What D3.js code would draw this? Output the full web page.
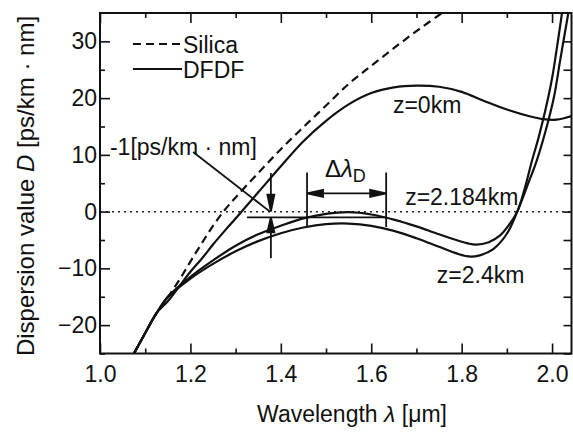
<!DOCTYPE html>
<html>
<head>
<meta charset="utf-8">
<script src="https://cdn.jsdelivr.net/npm/d3@7"></script>
<style>
  body { margin: 0; background: #ffffff; }
  text { font-family: "Liberation Sans", Arial, sans-serif; fill: #111; }
</style>
</head>
<body>
<div id="chart"></div>
<script>
// ----------------------------------------------------------------------------------------------------
// DATA - dispersion D [ps/km nm] against wavelength [um]
// ----------------------------------------------------------------------------------------------------

var silicaWl = [1.075, 1.10, 1.125, 1.15, 1.175, 1.20, 1.225, 1.25, 1.275, 1.30, 1.35, 1.40, 1.45, 1.50, 1.55, 1.60, 1.65, 1.70, 1.76, 1.80];
var silicaD  = [-25, -21.4, -17.9, -15.1, -12.1, -8.8, -5.6, -2.5, 0.2, 2.5, 6.8, 11.0, 14.9, 18.7, 22.5, 25.7, 28.8, 31.8, 35.2, 37.4];

var dfdf0Wl = [1.075, 1.10, 1.125, 1.15, 1.175, 1.20, 1.225, 1.25, 1.28, 1.30, 1.35, 1.40, 1.45, 1.50, 1.55, 1.60, 1.65, 1.70, 1.75, 1.80, 1.85, 1.90, 1.95, 1.98, 2.01, 2.045];
var dfdf0D  = [-25, -21.4, -17.9, -15.8, -13.2, -10.6, -8.3, -5.8, -3.0, -1.2, 3.4, 8.0, 12.4, 16.0, 18.9, 20.9, 21.9, 22.2, 22.0, 21.1, 19.5, 18.0, 16.8, 16.3, 16.2, 16.9];

var dfdf2184Wl = [1.075, 1.10, 1.125, 1.15, 1.20, 1.25, 1.30, 1.35, 1.40, 1.45, 1.50, 1.55, 1.60, 1.65, 1.70, 1.75, 1.80, 1.83, 1.86, 1.885, 1.905, 1.923, 1.94, 1.955, 1.97, 1.985, 2.00, 2.01, 2.022];
var dfdf2184D  = [-25, -21.4, -17.9, -15.0, -11.5, -8.6, -6.0, -4.0, -2.5, -1.2, -0.4, -0.1, -0.5, -1.4, -2.6, -4.0, -5.3, -5.8, -5.4, -4.2, -2.3, 0, 4.2, 8.8, 13.0, 17.8, 23.5, 28.5, 35];

var dfdf24Wl = [1.075, 1.10, 1.125, 1.15, 1.20, 1.25, 1.30, 1.35, 1.40, 1.45, 1.50, 1.55, 1.60, 1.65, 1.70, 1.75, 1.79, 1.815, 1.84, 1.87, 1.90, 1.923, 1.945, 1.967, 1.992, 2.005, 2.018, 2.036];
var dfdf24D  = [-25, -21.4, -17.9, -15.1, -11.8, -9.2, -7.0, -5.2, -3.8, -2.8, -2.2, -2.1, -2.5, -3.4, -4.7, -6.2, -7.4, -7.9, -7.7, -6.6, -3.9, 0, 4.5, 9.2, 16.1, 20.5, 26.7, 35];

var xMajorTicks = [1.0, 1.2, 1.4, 1.6, 1.8, 2.0];
var xMinorTicks = [1.1, 1.3, 1.5, 1.7, 1.9];
var yMajorTicks = [-20, -10, 0, 10, 20, 30];
var yMinorTicks = [-25, -15, -5, 5, 15, 25];

// ----------------------------------------------------------------------------------------------------
// CHART
// ----------------------------------------------------------------------------------------------------

var w = 573, h = 435;
var plotL = 100, plotR = 571.5, plotT = 13, plotB = 353.5;

var svg = d3.select("#chart")
    .append("svg")
    .attr("width", w)
    .attr("height", h);

var x = d3.scaleLinear().domain([1.0, 2.043]).range([plotL, plotR]);
var y = d3.scaleLinear().domain([-25, 35]).range([plotB, plotT]);

function zip(a, b) { return a.map(function(v, i) { return [v, b[i]]; }); }

svg.append("clipPath").attr("id", "plot-clip")
    .append("rect")
    .attr("x", plotL).attr("y", plotT)
    .attr("width", plotR - plotL).attr("height", plotB - plotT);

// Zero line (dotted)
svg.append("line")
    .attr("x1", x(1.0)).attr("x2", x(2.043))
    .attr("y1", y(0)).attr("y2", y(0))
    .attr("stroke", "#222")
    .attr("stroke-width", 1.5)
    .attr("stroke-dasharray", "2,4");

// Curves
var line = d3.line()
    .x(function(d) { return x(d[0]); })
    .y(function(d) { return y(d[1]); })
    .curve(d3.curveCatmullRom.alpha(0.5));

var curves = svg.append("g").attr("clip-path", "url(#plot-clip)");

curves.append("path")
    .datum(zip(silicaWl, silicaD))
    .attr("d", line)
    .attr("fill", "none")
    .attr("stroke", "#111")
    .attr("stroke-width", 2.2)
    .attr("stroke-dasharray", "8,5");

[zip(dfdf0Wl, dfdf0D), zip(dfdf2184Wl, dfdf2184D), zip(dfdf24Wl, dfdf24D)].forEach(function(s) {
    curves.append("path")
        .datum(s)
        .attr("d", line)
        .attr("fill", "none")
        .attr("stroke", "#111")
        .attr("stroke-width", 2.2);
});

// Axes (ticks inward)
function styleAxis(g) {
    g.select(".domain").remove();
    g.selectAll(".tick line").attr("stroke", "#111").attr("stroke-width", 1.6);
    g.selectAll("text").attr("font-size", "23px").attr("fill", "#111")
        .attr("font-family", "'Liberation Sans', Arial, sans-serif");
}

svg.append("g").attr("transform", "translate(0," + plotB + ")")
    .call(d3.axisBottom(x).tickValues(xMajorTicks).tickSizeInner(-10).tickSizeOuter(0).tickPadding(12).tickFormat(d3.format(".1f")))
    .call(styleAxis);
svg.append("g").attr("transform", "translate(0," + plotB + ")")
    .call(d3.axisBottom(x).tickValues(xMinorTicks).tickSizeInner(-5).tickSizeOuter(0).tickFormat(""))
    .call(styleAxis);
svg.append("g").attr("transform", "translate(0," + plotT + ")")
    .call(d3.axisTop(x).tickValues(xMajorTicks).tickSizeInner(-10).tickSizeOuter(0).tickFormat(""))
    .call(styleAxis);
svg.append("g").attr("transform", "translate(0," + plotT + ")")
    .call(d3.axisTop(x).tickValues(xMinorTicks).tickSizeInner(-5).tickSizeOuter(0).tickFormat(""))
    .call(styleAxis);

svg.append("g").attr("transform", "translate(" + plotL + ",0)")
    .call(d3.axisLeft(y).tickValues(yMajorTicks).tickSizeInner(-10).tickSizeOuter(0).tickPadding(3))
    .call(styleAxis);
svg.append("g").attr("transform", "translate(" + plotL + ",0)")
    .call(d3.axisLeft(y).tickValues(yMinorTicks).tickSizeInner(-5).tickSizeOuter(0).tickFormat(""))
    .call(styleAxis);
svg.append("g").attr("transform", "translate(" + plotR + ",0)")
    .call(d3.axisRight(y).tickValues(yMajorTicks).tickSizeInner(-8).tickSizeOuter(0).tickFormat(""))
    .call(styleAxis);
svg.append("g").attr("transform", "translate(" + plotR + ",0)")
    .call(d3.axisRight(y).tickValues(yMinorTicks).tickSizeInner(-8).tickSizeOuter(0).tickFormat(""))
    .call(styleAxis);

// Frame
svg.append("rect")
    .attr("x", plotL).attr("y", plotT)
    .attr("width", plotR - plotL).attr("height", plotB - plotT)
    .attr("fill", "none")
    .attr("stroke", "#111")
    .attr("stroke-width", 2);

// Axis titles
var xt = svg.append("text")
    .attr("x", 352).attr("y", 422)
    .attr("text-anchor", "middle")
    .attr("font-size", "23px");
xt.append("tspan").text("Wavelength ");
xt.append("tspan").attr("font-style", "italic").text("λ");
xt.append("tspan").text(" [μm]");

var yt = svg.append("text")
    .attr("transform", "translate(34,186) rotate(-90)")
    .attr("text-anchor", "middle")
    .attr("font-size", "24px");
yt.append("tspan").text("Dispersion value ");
yt.append("tspan").attr("font-style", "italic").text("D");
yt.append("tspan").text(" [ps/km · nm]");

// Legend
var legend = [
    { name: "Silica", dash: "8,5" },
    { name: "DFDF", dash: null }
];
legend.forEach(function(l, i) {
    var ly = 44 + i * 25;
    svg.append("line")
        .attr("x1", 133).attr("x2", 182)
        .attr("y1", ly).attr("y2", ly)
        .attr("stroke", "#111")
        .attr("stroke-width", 2.2)
        .attr("stroke-dasharray", l.dash);
    svg.append("text")
        .attr("x", 183).attr("y", ly + 9)
        .attr("font-size", "23px")
        .text(l.name);
});

// Annotations
function arrowHead(tx, ty, dx, dy, len, hw) {
    // tip at (tx,ty), pointing along (dx,dy)
    var bx = tx - dx * len, by = ty - dy * len;
    var px = -dy * hw, py = dx * hw;
    return "M" + tx + "," + ty + "L" + (bx + px) + "," + (by + py) + "L" + (bx - px) + "," + (by - py) + "Z";
}

var ann = svg.append("g").attr("stroke", "#111").attr("stroke-width", 1.8);

// -1 level line
ann.append("line")
    .attr("x1", x(1.325)).attr("x2", x(1.633))
    .attr("y1", y(-1)).attr("y2", y(-1));

// Down arrow to zero and up arrow to -1
var aX = x(1.378);
ann.append("line").attr("x1", aX).attr("x2", aX).attr("y1", y(6.8)).attr("y2", y(0) - 12);
ann.append("path").attr("d", arrowHead(aX, y(0), 0, 1, 17, 3.5)).attr("fill", "#111");
ann.append("line").attr("x1", aX).attr("x2", aX).attr("y1", y(-8.2)).attr("y2", y(-1) + 12);
ann.append("path").attr("d", arrowHead(aX, y(-1), 0, -1, 15, 3.5)).attr("fill", "#111");

// Leader line for "-1[ps/km · nm]"
ann.append("line")
    .attr("x1", x(1.206)).attr("y1", y(10.5))
    .attr("x2", x(1.376)).attr("y2", y(0));

// Delta lambda_D markers
var dl1 = x(1.458), dl2 = x(1.633);
ann.append("line").attr("x1", dl1).attr("x2", dl1).attr("y1", y(6.9)).attr("y2", y(-2.7));
ann.append("line").attr("x1", dl2).attr("x2", dl2).attr("y1", y(6.9)).attr("y2", y(-2.7));
ann.append("line").attr("x1", dl1 + 12).attr("x2", dl2 - 12).attr("y1", y(3.2)).attr("y2", y(3.2));
ann.append("path").attr("d", arrowHead(dl1, y(3.2), -1, 0, 16, 3.5)).attr("fill", "#111");
ann.append("path").attr("d", arrowHead(dl2, y(3.2), 1, 0, 16, 3.5)).attr("fill", "#111");

var dt = svg.append("text")
    .attr("x", 325).attr("y", 177)
    .attr("font-size", "24px");
dt.append("tspan").text("Δ");
dt.append("tspan").attr("font-style", "italic").text("λ");
dt.append("tspan").attr("font-size", "18px").attr("dy", 5).text("D");

// Text labels
var labels = [
    { t: "-1[ps/km · nm]", lx: 1.022, ly: 10.0 },
    { t: "z=0km", lx: 1.648, ly: 17.4 },
    { t: "z=2.184km", lx: 1.675, ly: 1.15 },
    { t: "z=2.4km", lx: 1.745, ly: -12.6 }
];
labels.forEach(function(l) {
    svg.append("text")
        .attr("x", x(l.lx)).attr("y", y(l.ly))
        .attr("font-size", "23px")
        .text(l.t);
});
</script>
</body>
</html>
